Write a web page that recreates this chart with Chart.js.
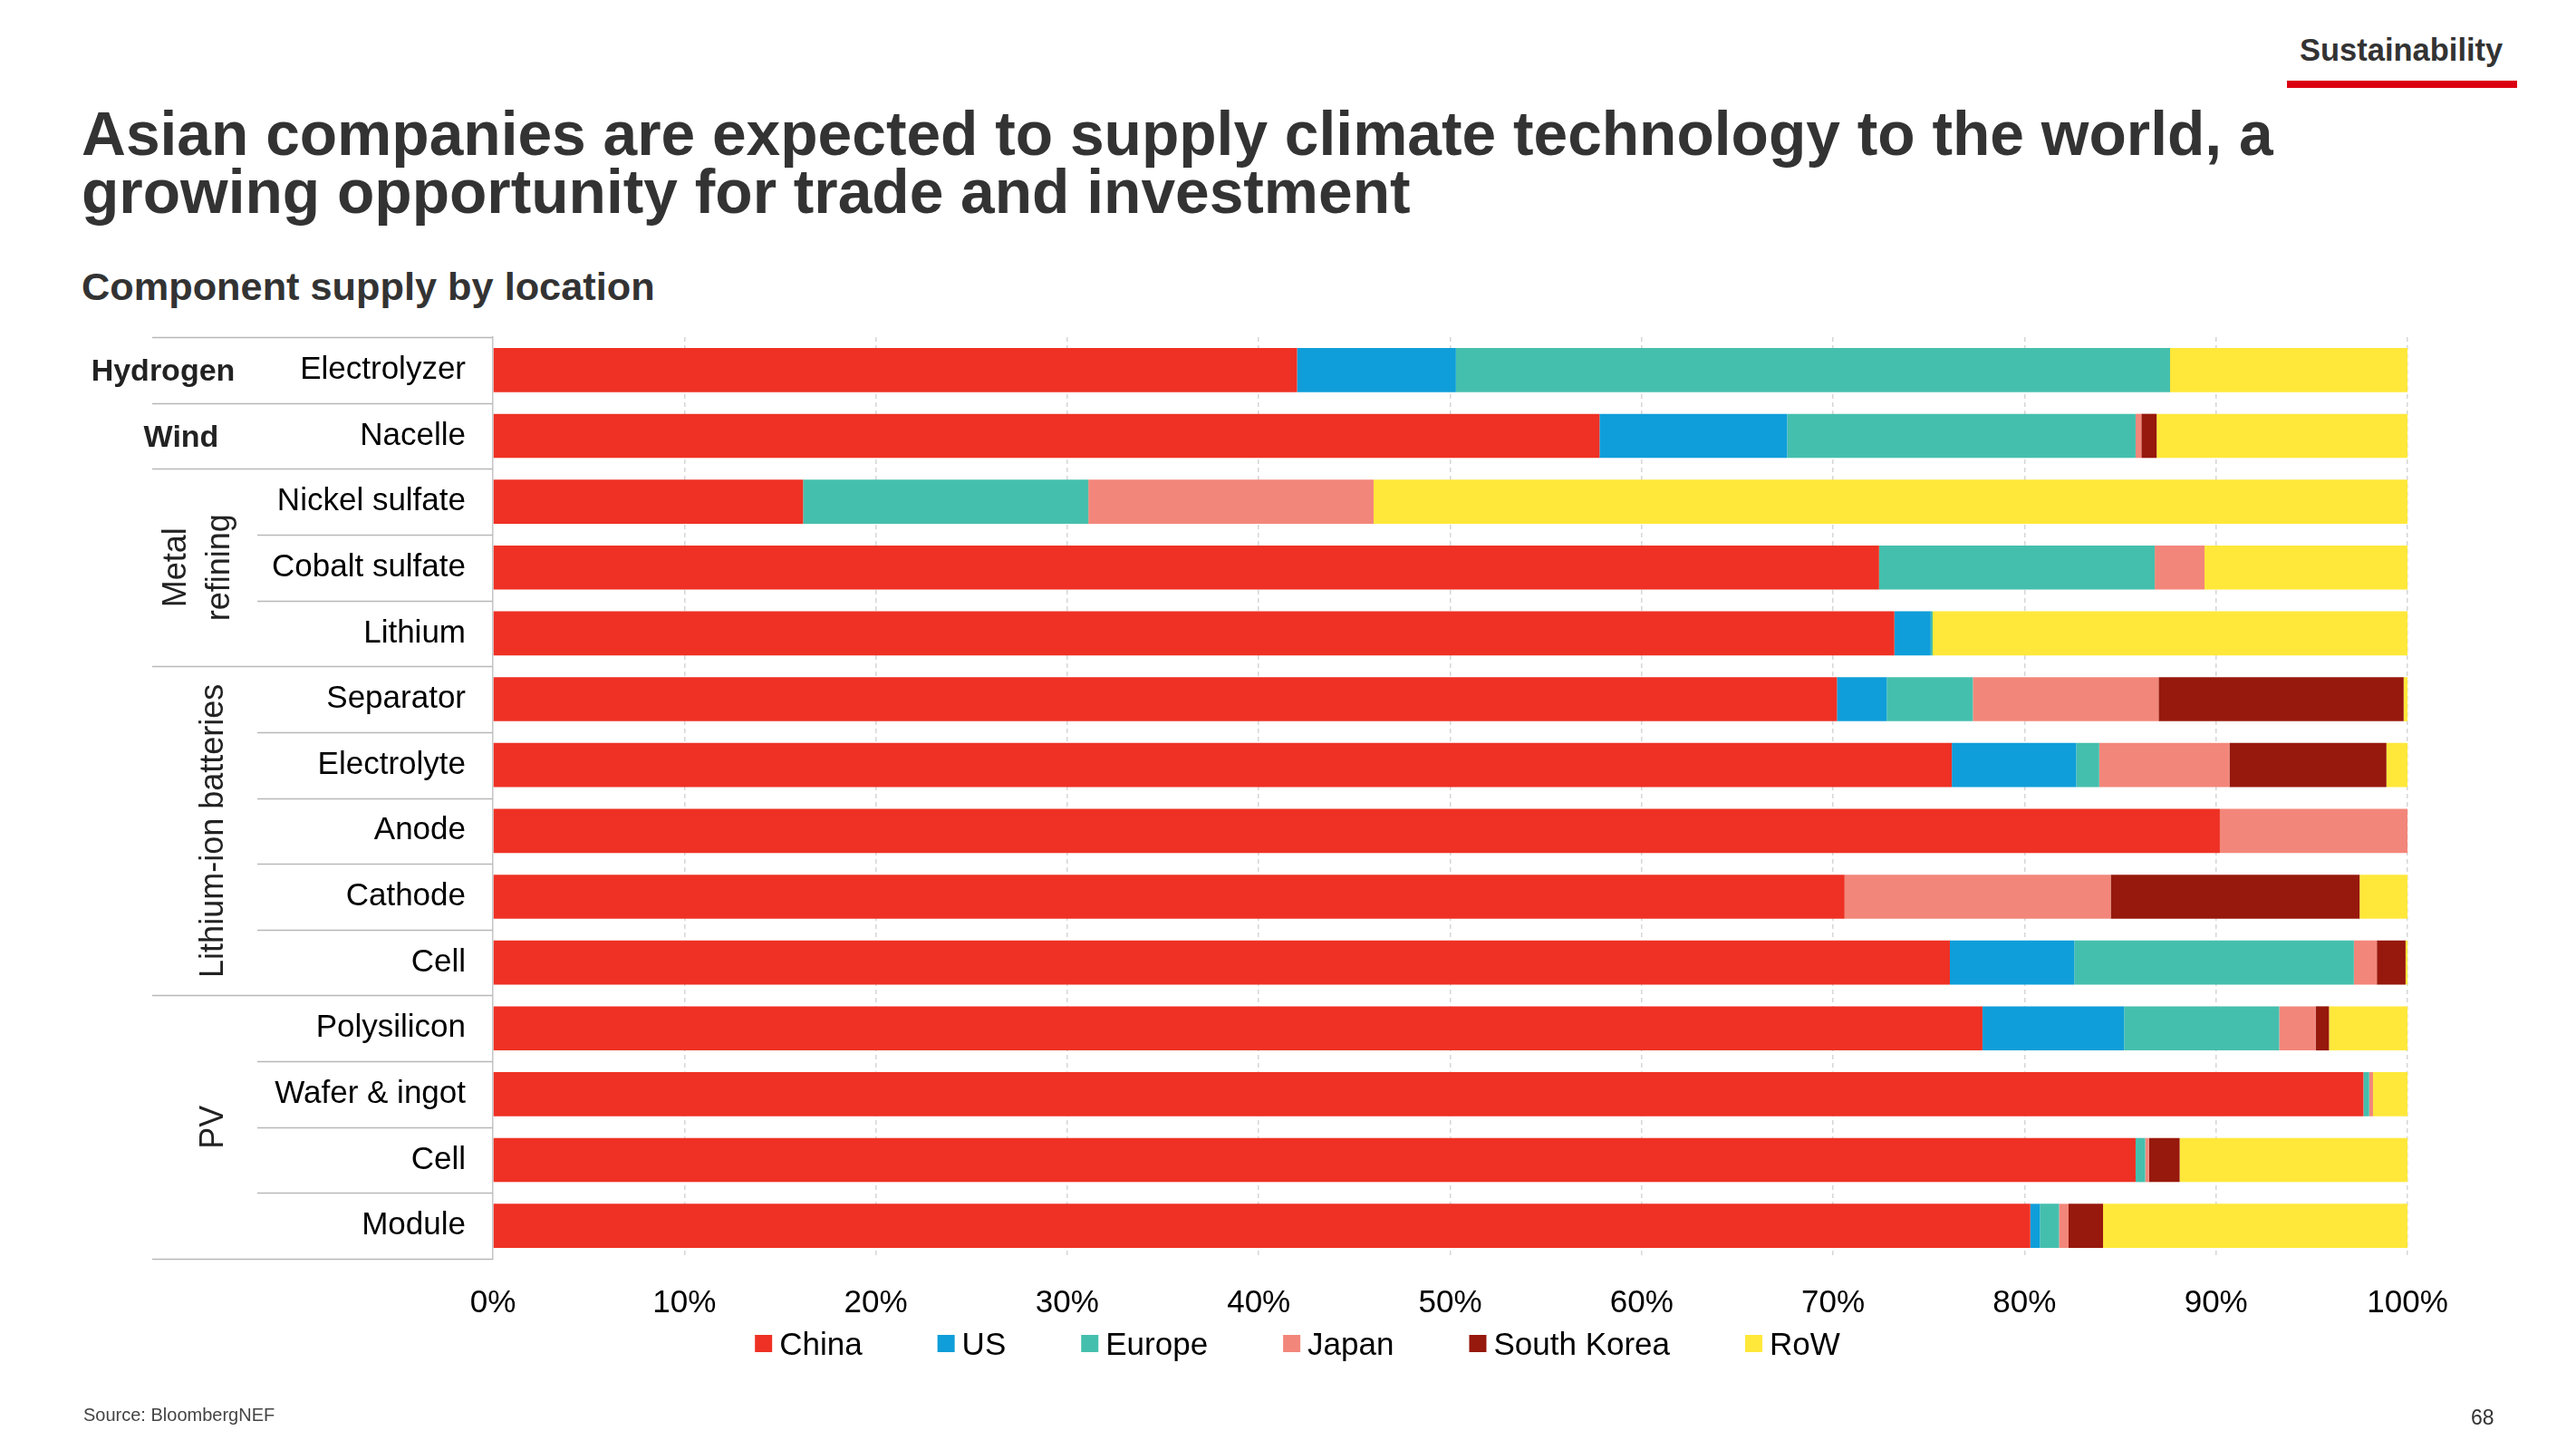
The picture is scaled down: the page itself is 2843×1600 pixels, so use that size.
<!DOCTYPE html>
<html>
<head>
<meta charset="utf-8">
<title>Component supply by location</title>
<script src="https://cdn.jsdelivr.net/npm/chart.js@4.4.1/dist/chart.umd.min.js"></script>
<style>
    html, body { margin: 0; padding: 0; background: #fff; }
    body { width: 2843px; height: 1600px; position: relative; overflow: hidden; font-family: "Liberation Sans", Arial, sans-serif; }
    .abs { position: absolute; white-space: nowrap; }
    #title { left: 90px; top: 116px; font-size: 67.7px; line-height: 64px; font-weight: 700; color: #333; }
    #subtitle { left: 90px; top: 295px; font-size: 43.3px; line-height: 43.3px; font-weight: 700; color: #333; }
    #section { left: 2538px; top: 38px; font-size: 34.5px; line-height: 34.5px; font-weight: 700; color: #333; }
    #section-bar { left: 2524px; top: 89px; width: 254px; height: 8px; background: #db0011; }
    #source { left: 92px; top: 1551px; font-size: 20px; line-height: 20px; color: #444; }
    #page-no { left: 2727px; top: 1553px; font-size: 23px; line-height: 23px; color: #333; }
    #chart { position: absolute; left: 0; top: 0; }
</style>
</head>
<body>
<div class="abs" id="section">Sustainability</div>
<div class="abs" id="section-bar"></div>
<div class="abs" id="title">Asian companies are expected to supply climate technology to the world, a<br>growing opportunity for trade and investment</div>
<div class="abs" id="subtitle">Component supply by location</div>
<canvas id="chart" width="2843" height="1600"></canvas>
<div class="abs" id="source">Source: BloombergNEF</div>
<div class="abs" id="page-no">68</div>

<script>
(function () {
    "use strict";

    // --- data (share of supply, %) ---
    const CATEGORIES = ["Electrolyzer", "Nacelle", "Nickel sulfate", "Cobalt sulfate", "Lithium",
        "Separator", "Electrolyte", "Anode", "Cathode", "Cell",
        "Polysilicon", "Wafer & ingot", "Cell", "Module"];
    const SERIES = ["China", "US", "Europe", "Japan", "South Korea", "RoW"];
    const CHINA = [42.0, 57.8, 16.2, 72.4, 73.2, 70.2, 76.2, 90.2, 70.6, 76.1, 77.8, 97.7, 85.8, 80.3];
    const US = [8.3, 9.8, 0, 0, 1.9, 2.6, 6.5, 0, 0, 6.5, 7.4, 0, 0, 0.5];
    const EUROPE = [37.3, 18.2, 14.9, 14.4, 0.1, 4.5, 1.2, 0, 0, 14.6, 8.1, 0.3, 0.5, 1.0];
    const JAPAN = [0, 0.3, 14.9, 2.6, 0, 9.7, 6.8, 9.8, 13.9, 1.2, 1.9, 0.2, 0.2, 0.5];
    const SOUTH_KOREA = [0, 0.8, 0, 0, 0, 12.8, 8.2, 0, 13.0, 1.5, 0.7, 0, 1.6, 1.8];
    const ROW = [12.4, 13.1, 54.0, 10.6, 24.8, 0.2, 1.1, 0, 2.5, 0.1, 4.1, 1.8, 11.9, 15.9];
    const GROUPS = ["Hydrogen", "Wind", "Metal refining", "Lithium-ion batteries", "PV"];
    const GROUP_SIZES = [1, 1, 3, 5, 4];
    const X_TICKS = [0, 10, 20, 30, 40, 50, 60, 70, 80, 90, 100];

    const COLORS = ["#ee3124", "#0f9ed9", "#45bfad", "#f3867a", "#97180c", "#ffe83a"];
    const FONT = '"Liberation Sans", Arial, sans-serif';

    // group label placement: horizontal bold for single rows, rotated for the rest
    const GROUP_STYLE = [
        { rotate: false, x: [180] },
        { rotate: false, x: [200] },
        { rotate: true, x: [195, 243], lines: ["Metal", "refining"] },
        { rotate: true, x: [236] },
        { rotate: true, x: [236] },
    ];

    const groupEdges = [0];
    GROUP_SIZES.forEach((n) => groupEdges.push(groupEdges[groupEdges.length - 1] + n));

    // category separators + group labels on the left of the y axis
    const categoryAxis = {
        id: "categoryAxis",
        afterDraw(chart) {
            const { ctx } = chart;
            const y = chart.scales.y;
            ctx.save();
            ctx.strokeStyle = "#b8b8b8";
            ctx.lineWidth = 1.5;
            for (let i = 0; i <= CATEGORIES.length; i++) {
                const py = Math.round(y.getPixelForValue(i - 0.5)) + 0.5;
                const x0 = groupEdges.includes(i) ? 168 : 284;
                ctx.beginPath();
                ctx.moveTo(x0, py);
                ctx.lineTo(y.right, py);
                ctx.stroke();
            }

            ctx.fillStyle = "#222";
            GROUPS.forEach((name, g) => {
                const st = GROUP_STYLE[g];
                const mid = y.getPixelForValue((groupEdges[g] + groupEdges[g + 1] - 1) / 2);
                if (!st.rotate) {
                    ctx.font = `700 34px ${FONT}`;
                    ctx.textAlign = "center";
                    ctx.textBaseline = "alphabetic";
                    ctx.fillText(name, st.x[0], mid + 12);
                    return;
                }
                const lines = st.lines || [name];
                ctx.font = `36px ${FONT}`;
                ctx.textAlign = "center";
                ctx.textBaseline = "middle";
                lines.forEach((txt, k) => {
                    ctx.save();
                    ctx.translate(st.x[k], mid);
                    ctx.rotate(-Math.PI / 2);
                    ctx.fillText(txt, 0, 0);
                    ctx.restore();
                });
            });
            ctx.restore();
        },
    };

    // legend row under the axis
    const legendRow = {
        id: "legendRow",
        afterDraw(chart) {
            const { ctx } = chart;
            ctx.save();
            ctx.font = `35px ${FONT}`;
            const box = 19, gap = 8, space = 83;
            const items = chart.data.datasets.map((d) => ({ text: d.label, color: d.backgroundColor, w: ctx.measureText(d.label).width }));
            const total = items.reduce((s, it) => s + box + gap + it.w, 0) + space * (items.length - 1);
            let x = 1432 - total / 2;
            ctx.textBaseline = "alphabetic";
            ctx.textAlign = "left";
            items.forEach((it) => {
                ctx.fillStyle = it.color;
                ctx.fillRect(x, 1473, box, box);
                ctx.fillStyle = "#000";
                ctx.fillText(it.text, x + box + gap, 1495);
                x += box + gap + it.w + space;
            });
            ctx.restore();
        },
    };

    const values = [CHINA, US, EUROPE, JAPAN, SOUTH_KOREA, ROW];

    new Chart(document.getElementById("chart"), {
        type: "bar",
        data: {
            labels: CATEGORIES,
            datasets: SERIES.map((name, i) => ({
                label: name,
                data: values[i],
                backgroundColor: COLORS[i],
                borderWidth: 0,
                categoryPercentage: 1,
                barPercentage: 0.67,
            })),
        },
        options: {
            indexAxis: "y",
            responsive: false,
            animation: false,
            layout: { padding: { top: 372, right: 186, bottom: 131, left: 0 } },
            plugins: { legend: { display: false }, tooltip: { enabled: false } },
            scales: {
                x: {
                    stacked: true,
                    min: 0,
                    max: 100,
                    afterBuildTicks: (s) => { s.ticks = X_TICKS.map((v) => ({ value: v })); },
                    ticks: { callback: (v) => v + "%", color: "#000", font: { size: 35, family: FONT }, padding: 28, maxRotation: 0 },
                    grid: { color: (c) => (c.tick && c.tick.value === 0 ? "rgba(0,0,0,0)" : "#d6d6d6"), lineWidth: 1.5, drawTicks: false },
                    border: { display: false, dash: [5, 4] },
                    afterFit: (s) => { s.height = 80; },
                },
                y: {
                    stacked: true,
                    ticks: { color: "#000", font: { size: 35, family: FONT }, padding: 30 },
                    grid: { display: false, drawTicks: false },
                    border: { display: true, color: "#c4c4c4", width: 1.5 },
                    afterFit: (s) => { s.width = 544; },
                },
            },
        },
        plugins: [categoryAxis, legendRow],
    });
})();
</script>
</body>
</html>
